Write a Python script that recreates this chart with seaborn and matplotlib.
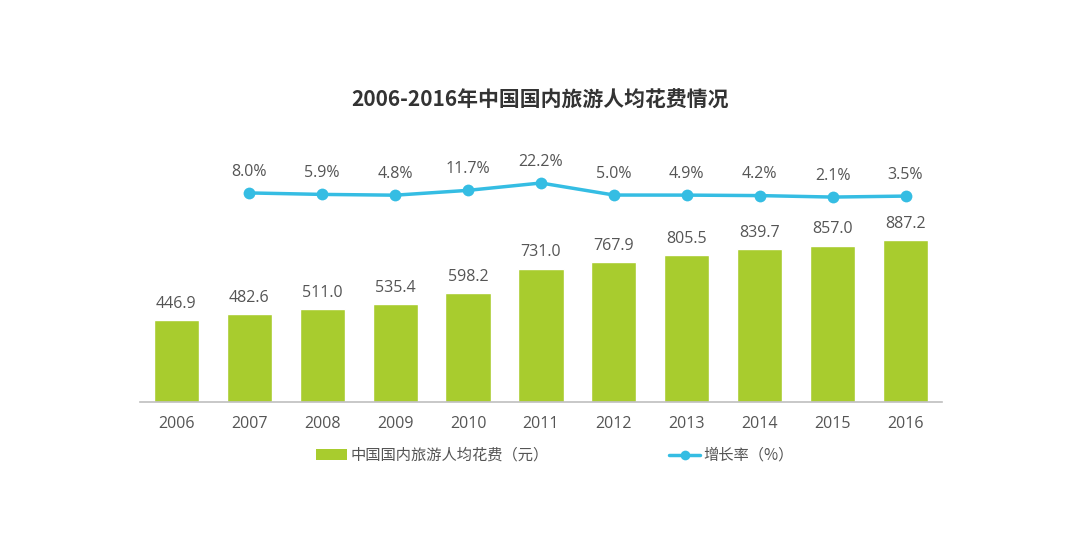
import numpy as np
import pandas as pd
import matplotlib
matplotlib.use("Agg")
import matplotlib.pyplot as plt
import seaborn as sns
from matplotlib.lines import Line2D
from matplotlib.patches import Patch

years = ["2006", "2007", "2008", "2009", "2010", "2011", "2012", "2013", "2014", "2015", "2016"]
spend = [446.9, 482.6, 511.0, 535.4, 598.2, 731.0, 767.9, 805.5, 839.7, 857.0, 887.2]
growth = [8.0, 5.9, 4.8, 11.7, 22.2, 5.0, 4.9, 4.2, 2.1, 3.5]
growth_years = years[1:]

bar_color = "#A8CC2E"
line_color = "#35BDE3"
text_color = "#555555"
num_font = ["Open Sans", "Noto Sans CJK SC", "DejaVu Sans"]

sns.set_theme(style="white")
plt.rcParams["font.family"] = ["Noto Sans CJK SC", "DejaVu Sans"]

df = pd.DataFrame({"year": years, "spend": spend})
gdf = pd.DataFrame({"year": growth_years, "growth": growth})
gdf["pos"] = [years.index(y) for y in growth_years]

fig = plt.figure(figsize=(10.8, 5.56), dpi=100)
ax = fig.add_axes([0.1296, 0.277, 0.7426, 0.453])

sns.barplot(data=df, x="year", y="spend", color=bar_color, width=0.62,
            saturation=1, ax=ax)
ax.set_xlim(-0.5, len(years) - 0.5)
ax.set_ylim(0, 1380)
for i, v in enumerate(spend):
    ax.text(i, v + 45, f"{v:.1f}", ha="center", va="bottom",
            fontsize=11.5, color=text_color, family=num_font)

ax.set_xlabel("")
ax.set_ylabel("")
ax.set_yticks([])
ax.tick_params(axis="x", length=0, labelsize=11.5, labelcolor=text_color, pad=10)
for lab in ax.get_xticklabels():
    lab.set_family(num_font)
for s in ["top", "left", "right"]:
    ax.spines[s].set_visible(False)
ax.spines["bottom"].set_color("#BFBFBF")
ax.spines["bottom"].set_linewidth(1.2)

ax2 = ax.twinx()
sns.lineplot(data=gdf, x="pos", y="growth", color=line_color, linewidth=2.5,
             marker="o", markersize=8.5, markeredgewidth=0, ax=ax2)
ax2.set_ylim(-290.8, 69.2)
ax2.set_xlim(-0.5, len(years) - 0.5)
for p, g in zip(gdf["pos"], growth):
    ax2.text(p, g + 19, f"{g:.1f}%", ha="center", va="bottom",
             fontsize=11.5, color=text_color, family=num_font)
ax2.set_yticks([])
ax2.set_ylabel("")
ax2.set_xlabel("")
for s in ax2.spines.values():
    s.set_visible(False)

fig.text(0.5, 0.82, "2006-2016年中国国内旅游人均花费情况", ha="center",
         va="center", fontsize=15, fontweight="bold", color="#333333")

handles = [
    Patch(facecolor=bar_color, edgecolor="none"),
    Line2D([0], [0], color=line_color, linewidth=2.5, marker="o",
           markersize=7, markeredgewidth=0),
]
labels = ["中国国内旅游人均花费（元）", "增长率（%）"]
fig.legend(handles, labels, loc="center", bbox_to_anchor=(0.514, 0.181),
           ncol=2, frameon=False, fontsize=11, labelcolor=text_color,
           columnspacing=7.9, handlelength=2.0, handletextpad=0.25)

fig.savefig("out.png", dpi=100, facecolor="white")
